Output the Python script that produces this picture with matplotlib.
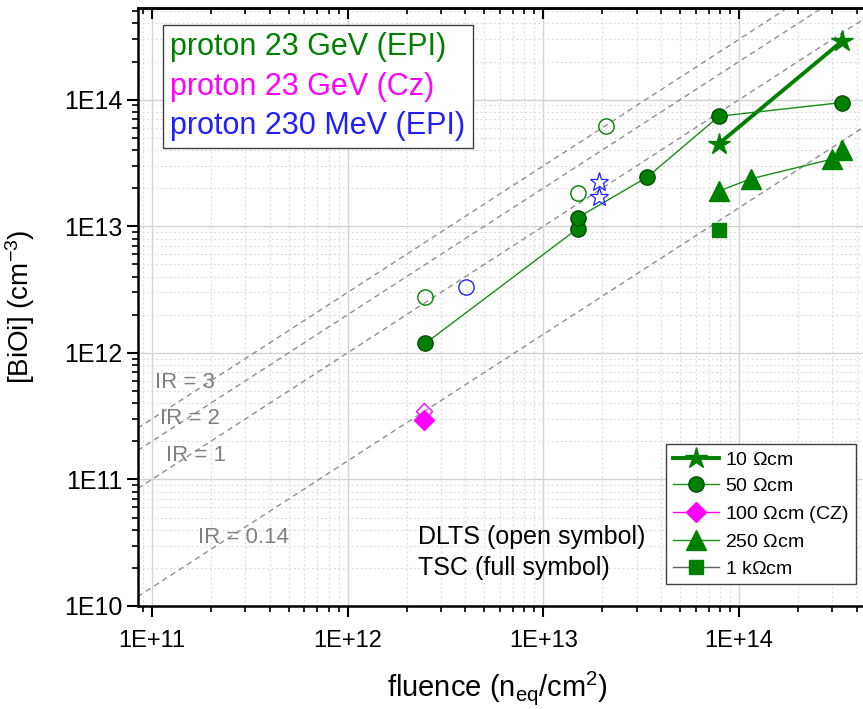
import matplotlib
matplotlib.use('Agg')
import matplotlib.pyplot as plt
from matplotlib.lines import Line2D
from matplotlib.ticker import LogLocator, NullFormatter, FixedLocator

plt.rcParams['font.family'] = ['Liberation Sans', 'DejaVu Sans']
plt.rcParams['mathtext.fontset'] = 'custom'
plt.rcParams['mathtext.rm'] = 'Liberation Sans'
plt.rcParams['mathtext.it'] = 'Liberation Sans'

GREEN = '#008000'
MAGENTA = '#ff00ff'
BLUE = '#2020ff'

# TSC (full symbols), 23 GeV protons, EPI
res10_flu = [7.9e13, 3.36e14]
res10_bioi = [4.5e13, 2.9e14]
res50_flu = [2.5e12, 1.5e13, 1.5e13, 3.4e13, 7.9e13, 3.36e14]
res50_bioi = [1.19e12, 9.6e12, 1.17e13, 2.45e13, 7.4e13, 9.5e13]
res250_flu = [7.9e13, 1.15e14, 3.0e14, 3.36e14]
res250_bioi = [1.9e13, 2.37e13, 3.4e13, 4.0e13]
res1k_flu = [7.9e13]
res1k_bioi = [9.3e12]
# 100 Ohm cm CZ
cz_flu = [2.45e12]
cz_bioi = [2.97e11]
cz_open_flu = [2.45e12]
cz_open_bioi = [3.45e11]

# DLTS (open symbols)
epi_open_flu = [2.5e12, 1.5e13, 2.1e13]
epi_open_bioi = [2.75e12, 1.83e13, 6.2e13]
mev_circ_flu = [4.05e12]
mev_circ_bioi = [3.3e12]
mev_star_flu = [1.93e13, 1.93e13]
mev_star_bioi = [2.25e13, 1.7e13]

# introduction rate lines
ir_values = [3, 2, 1, 0.14]
ir_labels = ['IR = 3', 'IR = 2', 'IR = 1', 'IR = 0.14']
ir_label_pos = [(0.023, 0.373), (0.030, 0.314), (0.039, 0.252), (0.083, 0.115)]

xlim = (8.5e10, 4.3e14)
ylim = (1e10, 5.3e14)

fig = plt.figure(figsize=(8.63, 7.09), dpi=100)
ax = fig.add_axes([0.160, 0.1453, 0.840, 0.8434])
ax.set_xscale('log')
ax.set_yscale('log')
ax.set_xlim(*xlim)
ax.set_ylim(*ylim)

# grid
ax.grid(True, which='major', color='#d4d4d4', linewidth=1.0, linestyle='-')
ax.grid(True, which='minor', color='#d8d8d8', linewidth=0.8, linestyle=(0, (1.5, 2.5)))
ax.set_axisbelow(True)

# IR lines
fl = [1e10, 1e15]
for ir in ir_values:
    ax.plot(fl, [ir * f for f in fl], color='#909090', linestyle=(0, (4, 3)), linewidth=1.0, zorder=1)
for lab, (tx, ty) in zip(ir_labels, ir_label_pos):
    ax.text(tx, ty, lab, transform=ax.transAxes, color='#808080', fontsize=16, va='center', ha='left')

# data
h10, = ax.plot(res10_flu, res10_bioi, color=GREEN, linewidth=2.8, marker='*', markersize=16,
               markerfacecolor=GREEN, markeredgecolor=GREEN, zorder=4)
h50, = ax.plot(res50_flu, res50_bioi, color='#1a8c1a', linewidth=1.0, marker='o', markersize=11,
               markerfacecolor=GREEN, markeredgecolor='#005000', zorder=4)
h250, = ax.plot(res250_flu, res250_bioi, color='#1a8c1a', linewidth=1.0, marker='^', markersize=14,
                markerfacecolor=GREEN, markeredgecolor=GREEN, zorder=4)
ax.plot(res1k_flu, res1k_bioi, linestyle='none', marker='s', markersize=10,
        markerfacecolor=GREEN, markeredgecolor=GREEN, zorder=4)
ax.plot(cz_open_flu, cz_open_bioi, linestyle='none', marker='D', markersize=8,
        markerfacecolor='none', markeredgecolor=MAGENTA, markeredgewidth=1.0, zorder=4)
ax.plot(cz_flu, cz_bioi, linestyle='none', marker='D', markersize=10,
        markerfacecolor=MAGENTA, markeredgecolor=MAGENTA, zorder=5)
ax.plot(epi_open_flu, epi_open_bioi, linestyle='none', marker='o', markersize=11,
        markerfacecolor='none', markeredgecolor=GREEN, markeredgewidth=1.0, zorder=4)
ax.plot(mev_circ_flu, mev_circ_bioi, linestyle='none', marker='o', markersize=11,
        markerfacecolor='none', markeredgecolor=BLUE, markeredgewidth=1.0, zorder=4)
ax.plot(mev_star_flu, mev_star_bioi, linestyle='none', marker='*', markersize=14,
        markerfacecolor='none', markeredgecolor=BLUE, markeredgewidth=0.9, zorder=4)

# ticks
ax.xaxis.set_major_locator(FixedLocator([1e11, 1e12, 1e13, 1e14]))
ax.yaxis.set_major_locator(FixedLocator([1e10, 1e11, 1e12, 1e13, 1e14]))
ax.xaxis.set_minor_locator(LogLocator(base=10, subs=range(2, 10)))
ax.yaxis.set_minor_locator(LogLocator(base=10, subs=range(2, 10)))
ax.xaxis.set_minor_formatter(NullFormatter())
ax.yaxis.set_minor_formatter(NullFormatter())
ax.set_xticklabels(['1E+11', '1E+12', '1E+13', '1E+14'])
ax.set_yticklabels(['1E10', '1E11', '1E12', '1E13', '1E14'])
ax.tick_params(axis='both', which='major', direction='out', length=8, width=1.5, pad=3)
ax.tick_params(axis='both', which='minor', direction='out', length=4, width=1.2)
ax.tick_params(axis='x', which='major', labelsize=17, pad=9)
ax.tick_params(axis='y', which='major', labelsize=18)

# top axis ticks point inward
top = ax.twiny()
top.set_xscale('log')
top.set_xlim(*xlim)
top.xaxis.set_major_locator(FixedLocator([1e11, 1e12, 1e13, 1e14]))
top.xaxis.set_minor_locator(LogLocator(base=10, subs=range(2, 10)))
top.xaxis.set_major_formatter(NullFormatter())
top.xaxis.set_minor_formatter(NullFormatter())
top.tick_params(axis='x', which='major', direction='in', length=8, width=1.5)
top.tick_params(axis='x', which='minor', direction='in', length=4, width=1.2)
for side in ['left', 'bottom', 'right']:
    top.spines[side].set_visible(False)
top.spines['top'].set_linewidth(1.8)

for side in ['left', 'bottom', 'top']:
    ax.spines[side].set_linewidth(1.8)
ax.spines['right'].set_visible(False)

ax.set_xlabel('fluence (n$_{eq}$/cm$^2$)', fontsize=21)
ax.xaxis.set_label_coords(0.496, -0.105)
ax.set_ylabel('[BiOi] (cm$^{-3}$)', fontsize=20)
ax.yaxis.set_label_coords(-0.14, 0.5)

# legend of resistivities
h100 = Line2D([], [], color=MAGENTA, linewidth=1.0, marker='D', markersize=10,
              markerfacecolor=MAGENTA, markeredgecolor=MAGENTA)
h1k = Line2D([], [], color='#606060', linewidth=1.0, marker='s', markersize=10,
             markerfacecolor=GREEN, markeredgecolor=GREEN)
leg = ax.legend([h10, h50, h100, h250, h1k],
                ['10 $\\Omega$cm', '50 $\\Omega$cm', '100 $\\Omega$cm (CZ)', '250 $\\Omega$cm', '1 k$\\Omega$cm'],
                loc='lower left', bbox_to_anchor=(0.728, 0.036), fontsize=14, frameon=True,
                fancybox=False, edgecolor='#404040', framealpha=1.0, borderpad=0.35,
                labelspacing=0.45, handlelength=2.4, handletextpad=0.3, borderaxespad=0,
                markerscale=1.0)
leg.get_frame().set_linewidth(1.0)
ax.add_artist(leg)

# legend of beams
blank = [Line2D([], [], linestyle='none') for _ in range(3)]
leg2 = ax.legend(blank, ['proton 23 GeV (EPI)', 'proton 23 GeV (Cz)', 'proton 230 MeV (EPI)'],
                 loc='upper left', bbox_to_anchor=(0.034, 0.972), fontsize=22, frameon=True,
                 fancybox=False, edgecolor='#404040', framealpha=1.0, handlelength=0,
                 handletextpad=0, borderpad=0.25, labelspacing=0.3, borderaxespad=0)
leg2.get_frame().set_linewidth(1.0)
for t, c in zip(leg2.get_texts(), [GREEN, MAGENTA, BLUE]):
    t.set_color(c)

ax.text(0.386, 0.115, 'DLTS (open symbol)', transform=ax.transAxes, fontsize=18, va='center')
ax.text(0.386, 0.0635, 'TSC (full symbol)', transform=ax.transAxes, fontsize=18, va='center')

fig.savefig('out.png', dpi=100)
